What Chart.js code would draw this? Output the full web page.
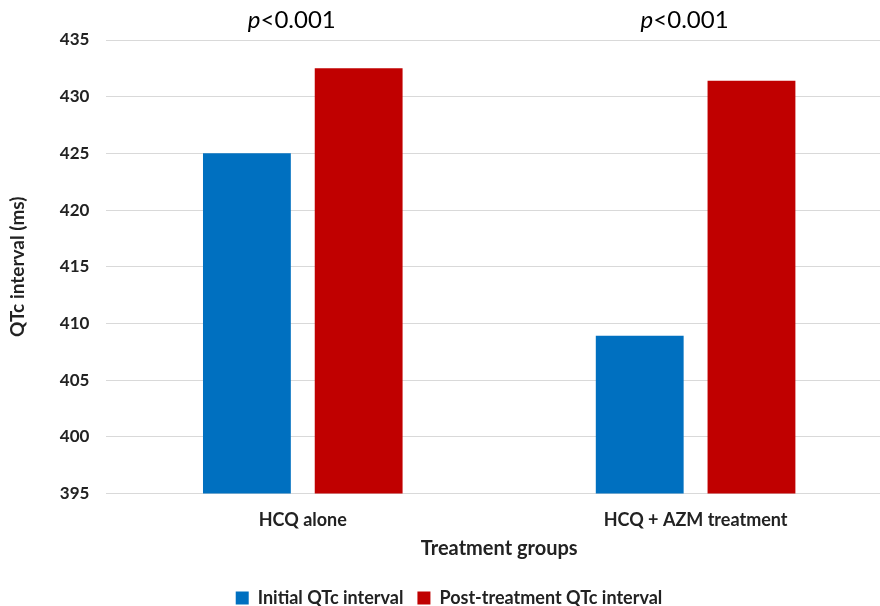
<!DOCTYPE html>
<html>
<head>
<meta charset="utf-8">
<script src="https://cdn.jsdelivr.net/npm/chart.js@4/dist/chart.umd.min.js"></script>
<style>
  html,body{margin:0;padding:0;background:#fff;overflow:hidden;}
  #wrap{width:892px;height:606px;}
</style>
</head>
<body>
<div id="wrap"><canvas id="myChart" width="892" height="606"></canvas></div>
<script>
// data
const groups = ["HCQ alone", "HCQ + AZM treatment"];
const initialQtc = [425.0, 408.9];
const postQtc = [432.5, 431.4];
const pLabels = ["<0.001", "<0.001"];
const yTicks = [395, 400, 405, 410, 415, 420, 425, 430, 435];

const fontFam = "Lato, 'Open Sans', sans-serif";

// p-value text above each group
const pValuePlugin = {
  id: "pvalues",
  afterDraw(chart){
    const ctx = chart.ctx;
    const xs = chart.scales.x;
    ctx.save();
    ctx.fillStyle = "#000";
    ctx.textBaseline = "middle";
    for(let i=0;i<groups.length;i++){
      const cx = xs.getPixelForValue(i) - 11;
      ctx.font = "italic 24px " + fontFam;
      const w1 = ctx.measureText("p").width;
      ctx.font = "24px " + fontFam;
      const w2 = ctx.measureText(pLabels[i]).width;
      const x0 = cx - (w1+w2)/2;
      ctx.textAlign = "left";
      ctx.font = "italic 24px " + fontFam;
      ctx.fillText("p", x0, 20);
      ctx.font = "24px " + fontFam;
      ctx.fillText(pLabels[i], x0 + w1, 20);
    }
    ctx.restore();
  }
};

const ctx = document.getElementById("myChart");
new Chart(ctx, {
  type: "bar",
  data: {
    labels: groups,
    datasets: [{
      label: "Initial QTc interval",
      data: initialQtc,
      backgroundColor: "#0070c0",
      categoryPercentage: 0.569,
      barPercentage: 0.786
    },{
      label: "Post-treatment QTc interval",
      data: postQtc,
      backgroundColor: "#c00000",
      categoryPercentage: 0.569,
      barPercentage: 0.786
    }]
  },
  options: {
    responsive: false,
    animation: false,
    layout: { padding: { top: 40, left: 6, right: 0, bottom: -11 } },
    plugins: {
      tooltip: { enabled: false },
      legend: {
        position: "bottom",
        labels: {
          color: "#222",
          font: { family: fontFam, size: 18, weight: "bold" },
          boxWidth: 13, boxHeight: 13,
          padding: 14
        }
      }
    },
    scales: {
      x: {
        grid: { display: false, drawTicks: false },
        border: { display: false },
        ticks: { color: "#222", padding: 16, font: { family: fontFam, size: 18, weight: "bold" } },
        title: {
          display: true, text: "Treatment groups", color: "#222",
          font: { family: fontFam, size: 20, weight: "bold" },
          padding: { top: -10, bottom: 14 }
        }
      },
      y: {
        min: yTicks[0], max: yTicks[yTicks.length-1],
        afterBuildTicks(scale){ scale.ticks = yTicks.map(v => ({ value: v })); },
        grid: { color: "#d9d9d9", drawTicks: false },
        border: { display: false },
        ticks: { color: "#222", padding: 17, font: { family: fontFam, size: 17, weight: "bold" } },
        title: {
          display: true, text: "QTc interval (ms)", color: "#222",
          font: { family: fontFam, size: 19, weight: "bold" },
          padding: { top: 0, bottom: 14 }
        }
      }
    }
  },
  plugins: [pValuePlugin]
});
</script>
</body>
</html>
